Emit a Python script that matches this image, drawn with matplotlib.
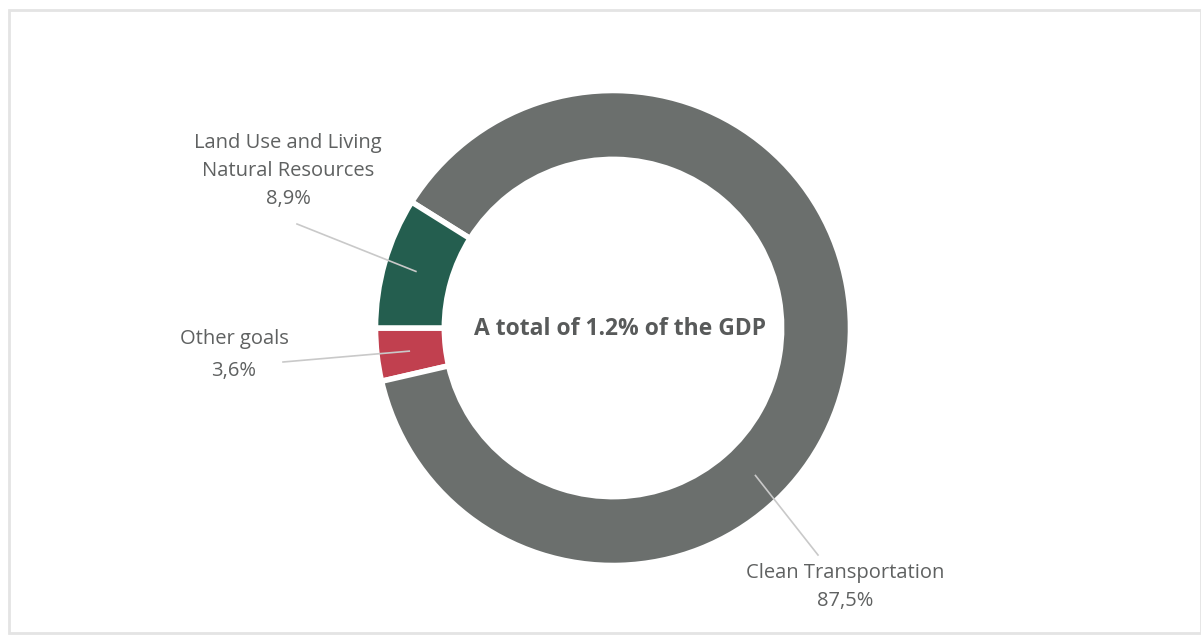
import numpy as np
import matplotlib.pyplot as plt
from matplotlib.patches import Rectangle

# valores del gráfico (porcentaje del gasto)
categorias = ["Other goals", "Clean Transportation", "Land Use and Living\nNatural Resources"]
valores = [3.6, 87.5, 8.9]
etiquetas_valor = ["3,6%", "87,5%", "8,9%"]
colores = ["#c1404f", "#6b6f6d", "#245e4f"]
texto_centro = "A total of 1.2% of the GDP"

W, H = 1201, 635
fig = plt.figure(figsize=(W / 100, H / 100), dpi=100)
ax = fig.add_axes([0, 0, 1, 1])

centro = (613, H - 328)
radio = 237.5
ancho = 0.29

wedges, _ = ax.pie(valores, colors=colores, startangle=180, counterclock=True,
                   center=centro, radius=radio,
                   wedgeprops=dict(width=radio * ancho, edgecolor="white", linewidth=4))

ax.set_xlim(0, W)
ax.set_ylim(0, H)
ax.set_aspect("auto")
ax.axis("off")

# marco gris claro alrededor del gráfico
ax.add_patch(Rectangle((9, 2), W - 9, H - 12, fill=False, edgecolor="#e4e4e4", linewidth=2))

ax.text(centro[0] + 7, centro[1] - 1, texto_centro, ha="center", va="center",
        fontsize=16.5, fontweight="bold", color="#585a5a", family="Open Sans")

# posición de cada etiqueta, fin de la línea guía y ángulo donde arranca
posiciones = [(234, H - 355), (845, H - 587), (288, H - 171)]
interlineado = [1.75, 1.55, 1.55]
fin_linea = [(283, H - 362), (818, H - 555), (297, H - 224)]
angulos = [None, 314, None]

for i, w in enumerate(wedges):
    ang = angulos[i] if angulos[i] is not None else (w.theta1 + w.theta2) / 2
    r = radio - radio * ancho * 0.5 + 2
    x0 = centro[0] + r * np.cos(np.radians(ang))
    y0 = centro[1] + r * np.sin(np.radians(ang))
    ax.plot([x0, fin_linea[i][0]], [y0, fin_linea[i][1]], color="#c9c9c9", linewidth=1.2)
    ax.text(posiciones[i][0], posiciones[i][1], categorias[i] + "\n" + etiquetas_valor[i],
            ha="center", va="center", fontsize=14.5, color="#5f6161", family="Open Sans",
            linespacing=interlineado[i])

fig.savefig("out.png", dpi=100, facecolor="white")
